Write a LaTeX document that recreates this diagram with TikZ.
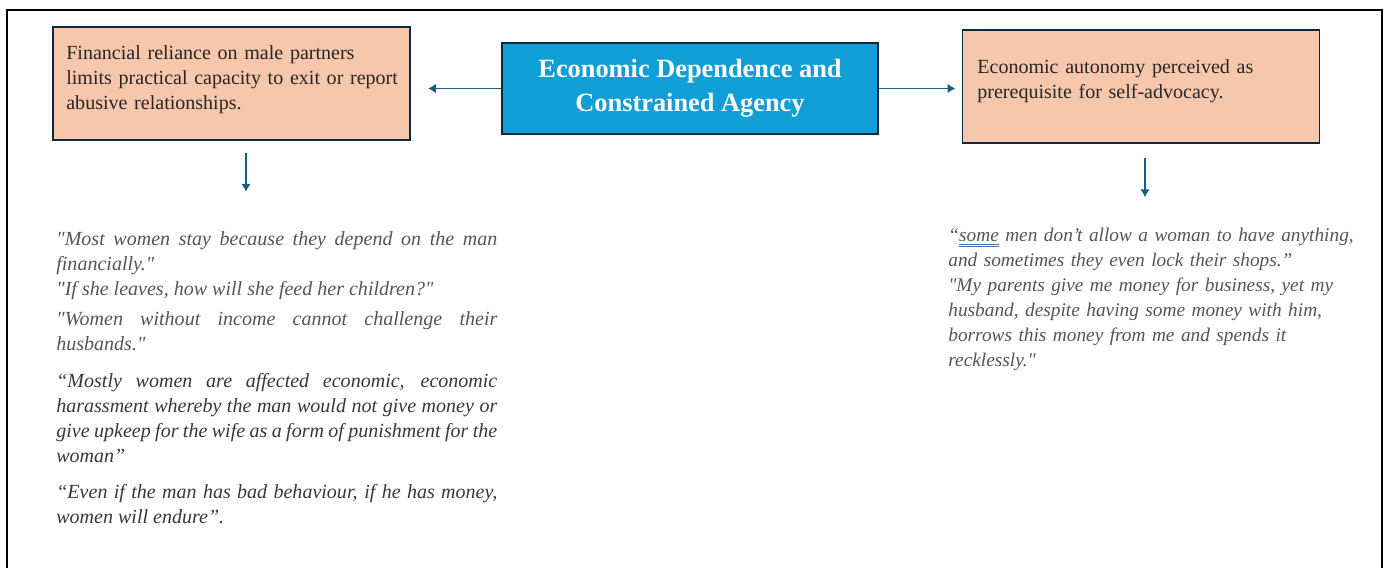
\documentclass[tikz,border=0pt]{standalone}
\usepackage{fontspec}
\setmainfont{Liberation Serif}[Ligatures=TeXOff]
\usetikzlibrary{arrows.meta}
\usepackage{xcolor}
\definecolor{mysalmon}{HTML}{F7C7AC}
\definecolor{myblue}{HTML}{0F9ED5}
\definecolor{mynavy}{HTML}{0E2841}
\definecolor{myteal}{HTML}{156082}
\definecolor{mygray}{HTML}{555555}
\definecolor{mydarkgray}{HTML}{383838}
\definecolor{myunderline}{HTML}{4472C4}
\hyphenpenalty=10000
% double blue mark under a word
\newcommand{\spellmark}[1]{\setbox0\hbox{#1}\rlap{\color{myunderline}\rule[-2pt]{\wd0}{0.45pt}\llap{\rule[-3.1pt]{\wd0}{0.45pt}}}#1}
\tikzset{
  >=latex, % default arrow head
  box/.style={draw=mynavy,line width=1.1pt,inner sep=0},
  box theme/.style={box,fill=myblue,minimum width=7.52cm,minimum height=1.82cm,
    text=white,align=center,font=\fontsize{15}{19.3}\selectfont\bfseries},
  box finding/.style={box,fill=mysalmon,minimum width=7.14cm,minimum height=2.26cm},
  finding text/.style={anchor=base west,inner sep=0,text width=6.8cm,align=left,
    text=black!85,font=\fontsize{11.4}{14.5}\selectfont},
  quote text/.style={anchor=base west,inner sep=0,text width=8.82cm,align=justify,
    text=mygray,font=\fontsize{11.4}{14.23}\selectfont\itshape},
  quote dark/.style={quote text,text=mydarkgray},
  quote ragged/.style={quote text,text width=8.5cm,align=left,font=\fontsize{11}{14.23}\selectfont\itshape},
  connect arrow/.style={-{Latex[length=4.5pt,width=5.5pt]},line width=1.1pt,myteal},
  page frame/.style={line width=1.2pt,black}
}

\begin{document}
\begin{tikzpicture}
  \useasboundingbox (0,0) rectangle (27.78,-11.36);
  \draw[page frame] (0.14,-11.36) |- (27.64,-0.2) -- (27.64,-11.36);

  % theme and the two findings
  \node[box theme] (econ) at (13.8,-1.77) {Economic Dependence and\\Constrained Agency};
  \node[box finding] (reliance) at (4.63,-1.67) {};
  \node[box finding] (autonomy) at (22.82,-1.73) {};
  \node[finding text] (relianceText) at (1.32,-1.18) {Financial reliance on male partners\\limits practical capacity to exit or report\\abusive relationships.};
  \node[finding text] (autonomyText) at (19.54,-1.46) {Economic autonomy perceived as\\prerequisite for self-advocacy.};

  % quotes under each finding
  \node[quote text] (qStay) at (1.12,-4.9) {"Most women stay because they depend on the man\linebreak financially."};
  \node[quote text] (qFeed) at (1.12,-5.9) {"If she leaves, how will she feed her children?"};
  \node[quote text] (qIncome) at (1.12,-6.5) {"Women without income cannot challenge their\linebreak husbands."};
  \node[quote dark] (qMostly) at (1.12,-7.74) {“Mostly women are affected economic, economic\linebreak harassment whereby the man would not give money or\linebreak give upkeep for the wife as a form of punishment for the\linebreak woman”};
  \node[quote dark] (qEven) at (1.12,-9.96) {“Even if the man has bad behaviour, if he has money,\linebreak women will endure”.};
  \node[quote ragged] (qShops) at (18.96,-4.82) {“\spellmark{some} men don’t allow a woman to have anything,\\and sometimes they even lock their shops.”\\"My parents give me money for business, yet my\\husband, despite having some money with him,\\borrows this money from me and spends it\\recklessly."};

  \draw[connect arrow, shorten >=0.34cm] (econ.west) -- (econ.west -| reliance.east);
  \draw[connect arrow, shorten >=0.12cm] (econ.east) -- (econ.east -| autonomy.west);
  \draw[connect arrow, shorten <=0.24cm, shorten >=0.78cm] ([xshift=0.29cm]reliance.south) -- ([xshift=0.29cm]reliance.south |- qStay.north);
  \draw[connect arrow, shorten <=0.28cm, shorten >=0.6cm] ([xshift=0.08cm]autonomy.south) -- ([xshift=0.08cm]autonomy.south |- qShops.north);
\end{tikzpicture}
\end{document}
